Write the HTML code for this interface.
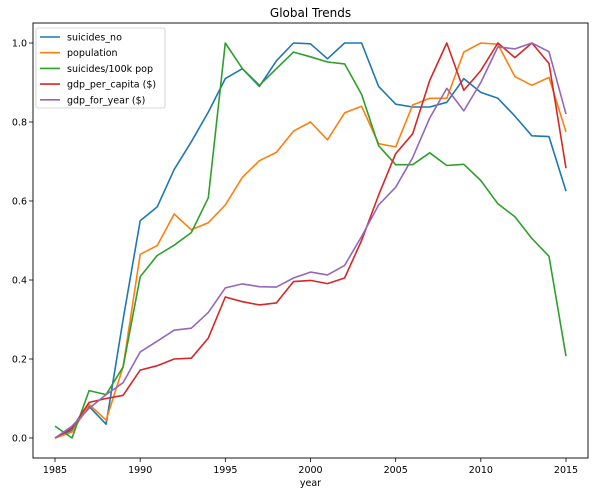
<!DOCTYPE html>
<html><head><meta charset="utf-8"><style>
html,body{margin:0;padding:0;background:#fff;}
svg{display:block;font-family:"DejaVu Sans","Liberation Sans",sans-serif;}
</style></head><body>
<svg id="chart" width="595" height="496"></svg>
<script>
const years=[1985,1986,1987,1988,1989,1990,1991,1992,1993,1994,1995,1996,1997,1998,1999,2000,2001,2002,2003,2004,2005,2006,2007,2008,2009,2010,2011,2012,2013,2014,2015];
const suicidesNo=[0,0.02,0.08,0.035,0.3,0.55,0.585,0.68,0.75,0.825,0.91,0.935,0.89,0.955,1.0,0.998,0.96,1.0,1.0,0.89,0.845,0.838,0.838,0.85,0.91,0.875,0.86,0.815,0.765,0.763,0.625];
const population=[0,0.015,0.085,0.045,0.18,0.465,0.487,0.567,0.527,0.545,0.59,0.66,0.702,0.723,0.777,0.8,0.755,0.823,0.84,0.745,0.737,0.843,0.86,0.86,0.977,1.0,0.997,0.915,0.893,0.913,0.775];
const suicidesPer100k=[0.03,0.0,0.12,0.11,0.18,0.408,0.462,0.488,0.52,0.608,1.0,0.935,0.893,0.935,0.977,0.965,0.952,0.947,0.87,0.74,0.692,0.692,0.722,0.69,0.693,0.652,0.593,0.56,0.505,0.46,0.207];
const gdpPerCapita=[0,0.025,0.09,0.1,0.108,0.172,0.183,0.2,0.202,0.253,0.357,0.345,0.337,0.342,0.396,0.399,0.391,0.405,0.5,0.615,0.72,0.77,0.905,1.0,0.88,0.93,1.0,0.963,1.0,0.948,0.683];
const gdpForYear=[0,0.03,0.075,0.11,0.14,0.218,0.245,0.273,0.278,0.318,0.38,0.39,0.383,0.382,0.405,0.42,0.413,0.437,0.51,0.59,0.635,0.71,0.81,0.885,0.828,0.9,0.99,0.985,1.0,0.978,0.82];
const seriesNames=["suicides_no","population","suicides/100k pop","gdp_per_capita ($)","gdp_for_year ($)"];
const xTicks=[1985,1990,1995,2000,2005,2010,2015];
const yTicks=[0.0,0.2,0.4,0.6,0.8,1.0];

const colors=["#1f77b4","#ff7f0e","#2ca02c","#d62728","#9467bd"];
const L=33,R=588,T=23,B=458;
const x=v=>55+(v-1985)*(566-55)/30;
const y=v=>438-v*(438-43);
const svg=document.getElementById('chart');
const NS="http://www.w3.org/2000/svg";
function mk(tag,attrs,text){const e=document.createElementNS(NS,tag);for(const k in attrs)e.setAttribute(k,attrs[k]);if(text!==undefined)e.textContent=text;svg.appendChild(e);return e;}

let t=mk('text',{x:(L+R)/2,y:17,'text-anchor':'middle','font-size':12,fill:'#000'},'Global Trends');



const all=[suicidesNo,population,suicidesPer100k,gdpPerCapita,gdpForYear];
all.forEach((s,i)=>{
  const p=mk('polyline',{points:s.map((v,j)=>x(years[j]).toFixed(1)+','+y(v).toFixed(1)).join(' '),fill:'none',stroke:colors[i],'stroke-width':1.6,'stroke-linejoin':'round'});
  
  
});

let fr=mk('rect',{x:L,y:T,width:R-L,height:B-T,fill:'none',stroke:'#000','stroke-width':0.9});



xTicks.forEach(v=>{
  mk('line',{x1:x(v),x2:x(v),y1:B,y2:B+4,stroke:'#000','stroke-width':0.8});
  const tx=mk('text',{x:x(v),y:B+15,'text-anchor':'middle','font-size':9.5,fill:'#000'},String(v));
  
  
});
yTicks.forEach(v=>{
  mk('line',{x1:L-4,x2:L,y1:y(v),y2:y(v),stroke:'#000','stroke-width':0.8});
  const tx=mk('text',{x:L-6,y:y(v)+3.5,'text-anchor':'end','font-size':9.5,fill:'#000'},v.toFixed(1));
  
  
});
let xl=mk('text',{x:(L+R)/2,y:486,'text-anchor':'middle','font-size':9.5,fill:'#000'},'year');



let lg=mk('rect',{x:36,y:28,width:129,height:80,fill:'#fff',stroke:'#ccc','stroke-width':0.8,rx:2});


seriesNames.forEach((n,i)=>{
  const yy=37+i*15.7;
  mk('line',{x1:40,x2:60,y1:yy,y2:yy,stroke:colors[i],'stroke-width':1.6});
  const tx=mk('text',{x:67,y:yy+3.5,'font-size':9.5,fill:'#000'},n);
  
  
});
</script>
</body></html>
